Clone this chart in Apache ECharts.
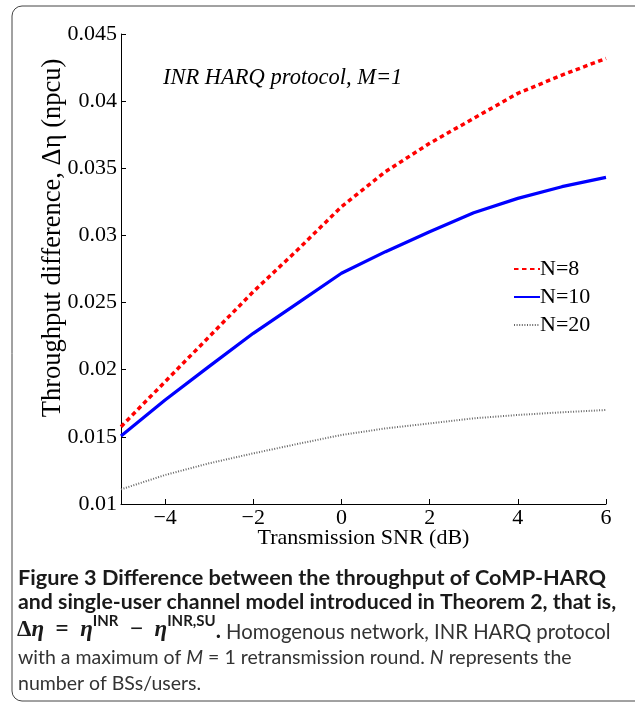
<!DOCTYPE html>
<html>
<head>
<meta charset="utf-8">
<script src="https://cdn.jsdelivr.net/npm/echarts@6/dist/echarts.min.js"></script>
<style>
html,body{margin:0;padding:0;background:#fff;}
#c{width:635px;height:705px;}
</style>
</head>
<body>
<div id="c"></div>
<script>
// Data
const snr = [-5, -4, -3, -2, -1, 0, 1, 2, 3, 4, 5, 6];
const n8  = [0.01576, 0.01911, 0.02246, 0.02581, 0.02891, 0.03214, 0.03475, 0.03686, 0.03872, 0.04058, 0.04194, 0.04318];
const n10 = [0.01506, 0.01774, 0.02025, 0.02271, 0.02494, 0.02718, 0.02879, 0.03028, 0.03169, 0.03276, 0.03363, 0.03432];
const n20 = [0.01109, 0.01216, 0.01303, 0.01377, 0.01447, 0.01514, 0.01563, 0.01600, 0.01638, 0.01663, 0.01683, 0.01700];
const xTicks = [-4, -2, 0, 2, 4, 6];
const yTicks = [0.01, 0.015, 0.02, 0.025, 0.03, 0.035, 0.04, 0.045];
const seriesNames = ['N=8', 'N=10', 'N=20'];

const serif = '"Liberation Serif", "DejaVu Serif", serif';
const sans = 'Lato, "Open Sans", "Noto Sans", sans-serif';

function pairs(ys) { return snr.map((x, i) => [x, ys[i]]); }

const chart = echarts.init(document.getElementById('c'), null, {renderer: 'canvas'});
const option = {
  animation: false,
  backgroundColor: '#fff',
  grid: {left: 121, right: 29, top: 34, bottom: 201, containLabel: false},
  title: {
    text: 'INR HARQ protocol, M=1',
    left: 158, top: 62,
    textStyle: {fontFamily: serif, fontStyle: 'italic', fontWeight: 'normal', fontSize: 22.5, color: '#000'}
  },
  legend: {
    orient: 'vertical',
    left: 508, top: 253,
    itemWidth: 26, itemHeight: 14, itemGap: 6,
    itemStyle: {opacity: 0},
    textStyle: {fontFamily: serif, fontSize: 22, color: '#000', padding: [0, 0, 0, -5]},
    data: seriesNames
  },
  xAxis: {
    type: 'value', min: -5, max: 6,
    name: 'Transmission SNR (dB)', nameLocation: 'middle', nameGap: 23, nameMoveOverlap: false,
    nameTextStyle: {fontFamily: serif, fontSize: 22, color: '#000'},
    axisLine: {onZero: false, lineStyle: {color: '#000', width: 1}},
    axisTick: {inside: true, length: 5, customValues: xTicks, lineStyle: {color: '#000'}},
    axisLabel: {customValues: xTicks, fontFamily: serif, fontSize: 22, color: '#000', margin: 3,
      formatter: v => (v < 0 ? '\u2212' + Math.abs(v) : String(v))},
    splitLine: {show: false}
  },
  yAxis: {
    type: 'value', min: 0.01, max: 0.045,
    name: 'Throughput difference, \u0394\u03b7 (npcu)', nameLocation: 'middle', nameGap: 54, nameMoveOverlap: false,
    nameTextStyle: {fontFamily: serif, fontSize: 26.5, color: '#000', padding: [0, 0, 0, 62]},
    axisLine: {onZero: false, lineStyle: {color: '#000', width: 1}},
    axisTick: {inside: true, length: 5, customValues: yTicks, lineStyle: {color: '#000'}},
    axisLabel: {customValues: yTicks, fontFamily: serif, fontSize: 22, color: '#000', margin: 4,
      formatter: v => String(Math.round(v * 1000) / 1000)},
    splitLine: {show: false}
  },
  series: [
    {name: seriesNames[0], type: 'line', data: pairs(n8), symbol: 'none',
     lineStyle: {color: '#ff0000', width: 3.5, type: [4.5, 3.5]}, itemStyle: {color: '#ff0000'}},
    {name: seriesNames[1], type: 'line', data: pairs(n10), symbol: 'none',
     lineStyle: {color: '#0000ff', width: 3.2, type: 'solid'}, itemStyle: {color: '#0000ff'}},
    {name: seriesNames[2], type: 'line', data: pairs(n20), symbol: 'none',
     lineStyle: {color: '#666666', width: 2, type: [1, 1.6]}, itemStyle: {color: '#666666'}}
  ],
  graphic: [
    {type: 'rect', silent: true, z: -1,
     shape: {x: 12, y: 6, width: 640, height: 695, r: 10},
     style: {fill: null, stroke: '#444', lineWidth: 1}},
    {type: 'text', left: 18, top: 567,
     style: {text: 'Figure 3 Difference between the throughput of CoMP-HARQ',
       font: 'bold 21.7px ' + sans, fill: '#1a1a1a'}},
    {type: 'text', left: 18, top: 592,
     style: {text: 'and single-user channel model introduced in Theorem 2, that is,',
       font: 'bold 21.3px ' + sans, fill: '#1a1a1a'}},
    {type: 'text', left: 17, top: 614,
     style: {
       text: '{d|\u0394}{m|\u03b7}{d|\u2002=\u2002}{m|\u03b7}{s|INR}{d|\u2002\u2212\u2002}{m|\u03b7}{s|INR,SU}{b|.}{r| Homogenous network, INR HARQ protocol}',
       rich: {
         d: {font: 'bold 23px ' + serif, fill: '#1a1a1a', verticalAlign: 'bottom', lineHeight: 28},
         m: {font: 'bold italic 23px ' + serif, fill: '#1a1a1a', verticalAlign: 'bottom', lineHeight: 28},
         s: {font: 'bold 15px ' + sans, fill: '#1a1a1a', verticalAlign: 'top', lineHeight: 28},
         b: {font: 'bold 22px ' + sans, fill: '#1a1a1a', verticalAlign: 'bottom', lineHeight: 28},
         r: {font: '20.3px ' + sans, fill: '#333', verticalAlign: 'bottom', lineHeight: 28}
       }
     }},
    {type: 'text', left: 18, top: 648,
     style: {
       text: '{r|with a maximum of }{i|M}{r| = 1 retransmission round. }{i|N}{r| represents the}',
       rich: {
         r: {font: '19.5px ' + sans, fill: '#333'},
         i: {font: 'italic 19.5px ' + sans, fill: '#333'}
       }
     }},
    {type: 'text', left: 18, top: 674,
     style: {text: 'number of BSs/users.', font: '19.5px ' + sans, fill: '#333'}}
  ]
};
chart.setOption(option);
</script>
</body>
</html>
